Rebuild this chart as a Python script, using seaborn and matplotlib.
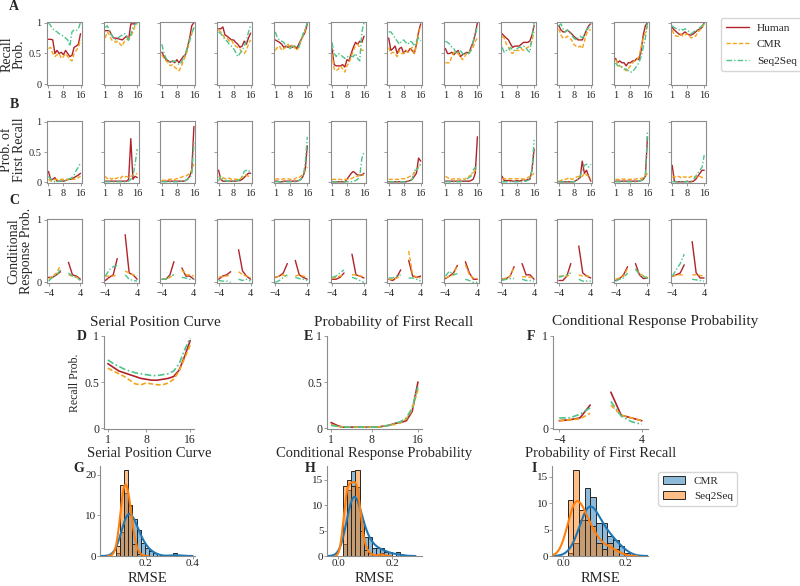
import numpy as np
import matplotlib
matplotlib.use("Agg")
import matplotlib.pyplot as plt
from matplotlib.lines import Line2D
import seaborn as sns

sns.set_theme(style="ticks")
plt.rcParams["font.family"] = ["Liberation Serif", "DejaVu Serif"]

# ---------------- data ----------------
positions = list(range(1, 17))
lags_left = [-4, -3, -2, -1]
lags_right = [1, 2, 3, 4]

spc_human = [
    [0.73, 0.73, 0.72, 0.50, 0.55, 0.50, 0.52, 0.48, 0.55, 0.50, 0.45, 0.47, 0.60, 0.62, 0.65, 0.82],
    [0.87, 0.87, 0.87, 0.80, 0.75, 0.75, 0.74, 0.73, 0.72, 0.75, 0.78, 0.73, 0.98, 0.98, 0.98, 1.00],
    [0.52, 0.45, 0.40, 0.38, 0.36, 0.38, 0.35, 0.40, 0.35, 0.40, 0.45, 0.48, 0.60, 0.75, 0.95, 1.00],
    [0.90, 0.90, 0.93, 0.80, 0.78, 0.75, 0.72, 0.72, 0.68, 0.65, 0.60, 0.62, 0.70, 0.65, 0.75, 0.83],
    [0.72, 0.70, 0.68, 0.65, 0.60, 0.62, 0.60, 0.62, 0.60, 0.62, 0.58, 0.65, 0.72, 0.78, 0.85, 0.98],
    [0.58, 0.32, 0.30, 0.30, 0.30, 0.32, 0.28, 0.40, 0.38, 0.50, 0.60, 0.68, 0.65, 0.70, 0.68, 0.78],
    [0.75, 0.55, 0.58, 0.62, 0.50, 0.58, 0.60, 0.50, 0.55, 0.52, 0.58, 0.55, 0.50, 0.65, 0.85, 0.98],
    [0.58, 0.50, 0.50, 0.52, 0.48, 0.52, 0.55, 0.45, 0.48, 0.50, 0.52, 0.50, 0.60, 0.68, 0.82, 1.00],
    [0.82, 0.78, 0.75, 0.72, 0.65, 0.60, 0.62, 0.62, 0.62, 0.65, 0.68, 0.68, 0.68, 0.70, 0.80, 0.95],
    [0.95, 0.88, 0.85, 0.85, 0.88, 0.85, 0.82, 0.78, 0.75, 0.72, 0.72, 0.72, 0.80, 0.88, 0.95, 0.98],
    [0.42, 0.35, 0.38, 0.35, 0.35, 0.30, 0.35, 0.35, 0.38, 0.38, 0.42, 0.40, 0.55, 0.80, 0.95, 1.00],
    [0.92, 0.88, 0.85, 0.82, 0.80, 0.82, 0.85, 0.82, 0.80, 0.80, 0.82, 0.85, 0.88, 0.90, 0.92, 1.00],
]
spc_cmr = [
    [0.58, 0.60, 0.50, 0.45, 0.48, 0.50, 0.42, 0.45, 0.50, 0.45, 0.40, 0.38, 0.50, 0.55, 0.60, 0.72],
    [0.75, 0.85, 0.80, 0.72, 0.70, 0.68, 0.70, 0.65, 0.62, 0.70, 0.72, 0.75, 0.78, 0.85, 0.95, 0.97],
    [0.48, 0.42, 0.38, 0.35, 0.30, 0.32, 0.28, 0.25, 0.22, 0.28, 0.38, 0.45, 0.55, 0.72, 0.82, 0.92],
    [0.88, 0.85, 0.80, 0.75, 0.75, 0.70, 0.72, 0.65, 0.62, 0.60, 0.57, 0.52, 0.50, 0.55, 0.65, 0.72],
    [0.55, 0.60, 0.62, 0.55, 0.58, 0.60, 0.65, 0.58, 0.65, 0.60, 0.55, 0.60, 0.70, 0.78, 0.88, 0.92],
    [0.50, 0.25, 0.22, 0.25, 0.30, 0.25, 0.20, 0.30, 0.35, 0.45, 0.55, 0.62, 0.65, 0.60, 0.55, 0.55],
    [0.60, 0.50, 0.52, 0.50, 0.45, 0.55, 0.50, 0.50, 0.55, 0.52, 0.55, 0.60, 0.50, 0.62, 0.82, 0.95],
    [0.35, 0.35, 0.35, 0.45, 0.52, 0.50, 0.50, 0.45, 0.40, 0.45, 0.50, 0.52, 0.55, 0.60, 0.70, 0.75],
    [0.78, 0.75, 0.65, 0.60, 0.52, 0.50, 0.55, 0.55, 0.55, 0.58, 0.55, 0.58, 0.60, 0.62, 0.70, 0.85],
    [0.90, 0.80, 0.75, 0.75, 0.78, 0.75, 0.72, 0.65, 0.62, 0.60, 0.62, 0.58, 0.70, 0.82, 0.88, 0.88],
    [0.40, 0.35, 0.30, 0.28, 0.25, 0.22, 0.25, 0.30, 0.35, 0.38, 0.40, 0.45, 0.60, 0.75, 0.85, 0.95],
    [0.88, 0.80, 0.78, 0.78, 0.82, 0.78, 0.80, 0.82, 0.78, 0.75, 0.78, 0.78, 0.85, 0.88, 0.92, 0.98],
]
spc_seq = [
    [1.00, 0.95, 0.90, 0.87, 0.85, 0.82, 0.80, 0.78, 0.75, 0.72, 0.62, 0.85, 0.88, 0.87, 0.90, 1.00],
    [0.92, 0.95, 0.87, 0.80, 0.75, 0.72, 0.75, 0.78, 0.80, 0.82, 0.80, 0.70, 0.80, 0.92, 0.97, 1.00],
    [0.65, 0.50, 0.42, 0.38, 0.35, 0.37, 0.38, 0.35, 0.32, 0.35, 0.42, 0.50, 0.60, 0.70, 0.82, 0.92],
    [0.85, 0.82, 0.78, 0.72, 0.70, 0.65, 0.62, 0.58, 0.52, 0.45, 0.50, 0.55, 0.62, 0.70, 0.85, 0.95],
    [0.85, 0.75, 0.72, 0.70, 0.68, 0.62, 0.60, 0.58, 0.62, 0.60, 0.62, 0.60, 0.70, 0.82, 0.90, 1.00],
    [0.68, 0.50, 0.45, 0.50, 0.48, 0.45, 0.42, 0.45, 0.45, 0.45, 0.45, 0.50, 0.42, 0.38, 0.85, 1.00],
    [0.85, 0.85, 0.80, 0.75, 0.70, 0.65, 0.70, 0.72, 0.68, 0.65, 0.70, 0.68, 0.62, 0.70, 0.75, 0.70],
    [0.70, 0.68, 0.65, 0.60, 0.58, 0.50, 0.52, 0.55, 0.50, 0.48, 0.52, 0.50, 0.55, 0.70, 0.80, 0.95],
    [0.60, 0.52, 0.55, 0.55, 0.60, 0.55, 0.55, 0.58, 0.60, 0.60, 0.62, 0.60, 0.55, 0.52, 0.75, 1.00],
    [0.95, 0.98, 0.90, 0.85, 0.88, 0.85, 0.80, 0.75, 0.72, 0.75, 0.78, 0.75, 0.80, 0.88, 0.92, 1.00],
    [0.35, 0.30, 0.30, 0.28, 0.25, 0.25, 0.22, 0.20, 0.20, 0.25, 0.30, 0.35, 0.45, 0.60, 0.75, 1.00],
    [0.95, 0.92, 0.90, 0.88, 0.90, 0.88, 0.90, 0.88, 0.85, 0.82, 0.85, 0.88, 0.88, 0.92, 0.95, 1.00],
]

pfr_human = [
    [0.18, 0.05, 0.05, 0.08, 0.02, 0.02, 0.02, 0.02, 0.03, 0.05, 0.05, 0.05, 0.08, 0.10, 0.12, 0.15],
    [0.02, 0.02, 0.02, 0.02, 0.02, 0.02, 0.02, 0.02, 0.02, 0.02, 0.02, 0.05, 0.72, 0.05, 0.10, 0.08],
    [0.02, 0.02, 0.02, 0.02, 0.02, 0.02, 0.02, 0.02, 0.02, 0.02, 0.02, 0.03, 0.05, 0.10, 0.20, 0.92],
    [0.20, 0.05, 0.02, 0.02, 0.02, 0.02, 0.02, 0.02, 0.02, 0.03, 0.03, 0.05, 0.08, 0.12, 0.15, 0.15],
    [0.02, 0.02, 0.01, 0.01, 0.02, 0.02, 0.02, 0.02, 0.02, 0.02, 0.02, 0.03, 0.05, 0.10, 0.20, 0.60],
    [0.01, 0.01, 0.01, 0.01, 0.01, 0.01, 0.01, 0.05, 0.10, 0.15, 0.18, 0.15, 0.12, 0.12, 0.12, 0.15],
    [0.01, 0.01, 0.01, 0.01, 0.01, 0.01, 0.01, 0.01, 0.01, 0.02, 0.03, 0.05, 0.10, 0.15, 0.40, 0.35],
    [0.02, 0.02, 0.02, 0.02, 0.02, 0.02, 0.02, 0.02, 0.02, 0.02, 0.02, 0.02, 0.03, 0.05, 0.15, 0.75],
    [0.10, 0.03, 0.03, 0.03, 0.03, 0.02, 0.02, 0.03, 0.02, 0.03, 0.05, 0.03, 0.05, 0.05, 0.20, 0.55],
    [0.01, 0.01, 0.01, 0.01, 0.01, 0.01, 0.01, 0.01, 0.03, 0.05, 0.08, 0.35, 0.15, 0.20, 0.10, 0.02],
    [0.02, 0.02, 0.02, 0.02, 0.02, 0.02, 0.02, 0.02, 0.02, 0.02, 0.02, 0.02, 0.03, 0.05, 0.10, 0.75],
    [0.28, 0.02, 0.01, 0.01, 0.01, 0.01, 0.01, 0.02, 0.01, 0.01, 0.02, 0.05, 0.10, 0.15, 0.20, 0.20],
]
pfr_cmr = [
    [0.05, 0.02, 0.03, 0.05, 0.05, 0.04, 0.05, 0.05, 0.06, 0.04, 0.06, 0.05, 0.05, 0.06, 0.08, 0.10],
    [0.10, 0.06, 0.08, 0.05, 0.08, 0.06, 0.08, 0.06, 0.10, 0.08, 0.10, 0.08, 0.10, 0.12, 0.12, 0.15],
    [0.04, 0.03, 0.04, 0.05, 0.05, 0.06, 0.05, 0.06, 0.08, 0.08, 0.10, 0.10, 0.12, 0.15, 0.20, 0.30],
    [0.10, 0.05, 0.08, 0.06, 0.05, 0.07, 0.05, 0.06, 0.05, 0.05, 0.06, 0.08, 0.10, 0.12, 0.10, 0.12],
    [0.05, 0.06, 0.05, 0.05, 0.06, 0.05, 0.06, 0.05, 0.06, 0.05, 0.08, 0.08, 0.10, 0.15, 0.20, 0.25],
    [0.05, 0.05, 0.05, 0.05, 0.05, 0.04, 0.05, 0.05, 0.05, 0.06, 0.08, 0.10, 0.10, 0.12, 0.12, 0.12],
    [0.05, 0.05, 0.05, 0.05, 0.05, 0.05, 0.06, 0.06, 0.06, 0.08, 0.10, 0.12, 0.15, 0.20, 0.25, 0.30],
    [0.10, 0.08, 0.06, 0.05, 0.06, 0.05, 0.06, 0.05, 0.06, 0.05, 0.08, 0.10, 0.12, 0.15, 0.20, 0.20],
    [0.06, 0.06, 0.06, 0.06, 0.06, 0.06, 0.06, 0.06, 0.06, 0.06, 0.05, 0.06, 0.08, 0.10, 0.12, 0.15],
    [0.02, 0.03, 0.05, 0.05, 0.06, 0.08, 0.05, 0.06, 0.08, 0.10, 0.08, 0.10, 0.15, 0.12, 0.10, 0.05],
    [0.05, 0.05, 0.05, 0.06, 0.05, 0.06, 0.05, 0.05, 0.06, 0.05, 0.06, 0.06, 0.06, 0.08, 0.10, 0.15],
    [0.08, 0.10, 0.08, 0.10, 0.08, 0.10, 0.08, 0.10, 0.08, 0.10, 0.08, 0.10, 0.08, 0.10, 0.08, 0.08],
]
pfr_seq = [
    [0.10, 0.05, 0.02, 0.01, 0.01, 0.02, 0.02, 0.03, 0.03, 0.05, 0.06, 0.08, 0.12, 0.20, 0.25, 0.32],
    [0.01, 0.01, 0.01, 0.01, 0.01, 0.01, 0.01, 0.01, 0.01, 0.01, 0.01, 0.02, 0.05, 0.10, 0.30, 0.55],
    [0.01, 0.01, 0.01, 0.01, 0.01, 0.01, 0.01, 0.01, 0.01, 0.02, 0.02, 0.03, 0.05, 0.08, 0.12, 0.65],
    [0.02, 0.10, 0.05, 0.03, 0.02, 0.02, 0.02, 0.02, 0.02, 0.03, 0.05, 0.10, 0.18, 0.20, 0.20, 0.15],
    [0.01, 0.01, 0.01, 0.01, 0.01, 0.01, 0.01, 0.01, 0.01, 0.01, 0.01, 0.03, 0.05, 0.10, 0.30, 0.75],
    [0.01, 0.01, 0.01, 0.01, 0.01, 0.01, 0.01, 0.01, 0.01, 0.01, 0.02, 0.03, 0.05, 0.10, 0.40, 0.50],
    [0.01, 0.01, 0.01, 0.01, 0.01, 0.01, 0.01, 0.01, 0.01, 0.02, 0.03, 0.05, 0.20, 0.20, 0.25, 0.30],
    [0.01, 0.01, 0.01, 0.01, 0.01, 0.01, 0.01, 0.01, 0.02, 0.03, 0.05, 0.08, 0.10, 0.20, 0.25, 0.20],
    [0.01, 0.01, 0.01, 0.01, 0.01, 0.01, 0.01, 0.01, 0.01, 0.01, 0.01, 0.02, 0.03, 0.05, 0.20, 0.70],
    [0.01, 0.01, 0.01, 0.01, 0.01, 0.01, 0.01, 0.01, 0.02, 0.05, 0.10, 0.20, 0.28, 0.30, 0.25, 0.30],
    [0.01, 0.01, 0.01, 0.01, 0.01, 0.01, 0.01, 0.01, 0.01, 0.01, 0.01, 0.02, 0.03, 0.05, 0.10, 0.85],
    [0.01, 0.01, 0.01, 0.01, 0.01, 0.01, 0.01, 0.01, 0.01, 0.02, 0.05, 0.10, 0.15, 0.20, 0.25, 0.45],
]

# conditional response probability: lags -4..-1 then 1..4
crp_human = [
    [0.08, 0.08, 0.12, 0.17, 0.32, 0.12, 0.10, 0.05],
    [0.03, 0.08, 0.12, 0.38, 0.76, 0.15, 0.12, 0.05],
    [0.05, 0.05, 0.12, 0.33, 0.23, 0.10, 0.10, 0.05],
    [0.05, 0.10, 0.12, 0.17, 0.52, 0.18, 0.10, 0.05],
    [0.08, 0.10, 0.15, 0.30, 0.35, 0.12, 0.08, 0.05],
    [0.05, 0.05, 0.08, 0.15, 0.45, 0.12, 0.10, 0.07],
    [0.05, 0.03, 0.08, 0.20, 0.35, 0.10, 0.08, 0.10],
    [0.06, 0.10, 0.15, 0.27, 0.33, 0.15, 0.05, 0.05],
    [0.05, 0.06, 0.10, 0.25, 0.30, 0.12, 0.12, 0.05],
    [0.03, 0.03, 0.10, 0.30, 0.58, 0.15, 0.10, 0.07],
    [0.03, 0.06, 0.12, 0.25, 0.30, 0.12, 0.06, 0.07],
    [0.10, 0.12, 0.15, 0.28, 0.65, 0.15, 0.07, 0.07],
]
crp_cmr = [
    [0.05, 0.10, 0.15, 0.27, 0.12, 0.10, 0.08, 0.05],
    [0.10, 0.10, 0.10, 0.12, 0.18, 0.15, 0.12, 0.10],
    [0.05, 0.05, 0.08, 0.12, 0.20, 0.12, 0.12, 0.10],
    [0.08, 0.10, 0.10, 0.12, 0.17, 0.12, 0.10, 0.08],
    [0.08, 0.10, 0.12, 0.08, 0.10, 0.12, 0.10, 0.08],
    [0.06, 0.08, 0.10, 0.12, 0.12, 0.12, 0.10, 0.10],
    [0.05, 0.05, 0.07, 0.10, 0.50, 0.12, 0.08, 0.07],
    [0.07, 0.10, 0.12, 0.27, 0.28, 0.12, 0.07, 0.06],
    [0.05, 0.07, 0.10, 0.25, 0.09, 0.09, 0.08, 0.07],
    [0.10, 0.10, 0.10, 0.12, 0.12, 0.10, 0.10, 0.10],
    [0.05, 0.07, 0.10, 0.22, 0.20, 0.15, 0.10, 0.08],
    [0.10, 0.11, 0.12, 0.12, 0.12, 0.12, 0.11, 0.10],
]
crp_seq = [
    [0.02, 0.08, 0.12, 0.20, 0.15, 0.10, 0.08, 0.03],
    [0.10, 0.20, 0.25, 0.27, 0.12, 0.05, 0.03, 0.02],
    [0.05, 0.05, 0.10, 0.12, 0.08, 0.07, 0.05, 0.05],
    [0.03, 0.02, 0.02, 0.00, 0.05, 0.03, 0.05, 0.02],
    [0.00, 0.03, 0.08, 0.12, 0.08, 0.06, 0.05, 0.03],
    [0.08, 0.10, 0.15, 0.20, 0.08, 0.06, 0.03, 0.00],
    [0.07, 0.07, 0.10, 0.12, 0.07, 0.07, 0.05, 0.02],
    [0.10, 0.18, 0.12, 0.14, 0.05, 0.03, 0.00, 0.00],
    [0.03, 0.05, 0.06, 0.06, 0.05, 0.03, 0.03, 0.02],
    [0.08, 0.10, 0.12, 0.15, 0.05, 0.02, 0.02, 0.02],
    [0.02, 0.05, 0.07, 0.15, 0.22, 0.12, 0.10, 0.06],
    [0.10, 0.20, 0.30, 0.45, 0.05, 0.04, 0.03, 0.02],
]

avg_spc_human = [0.70, 0.66, 0.62, 0.60, 0.58, 0.56, 0.54, 0.53, 0.52, 0.52, 0.53, 0.54, 0.56, 0.63, 0.78, 0.95]
avg_spc_cmr = [0.65, 0.62, 0.59, 0.56, 0.52, 0.48, 0.47, 0.49, 0.48, 0.47, 0.47, 0.49, 0.53, 0.62, 0.76, 0.90]
avg_spc_seq = [0.74, 0.70, 0.67, 0.64, 0.62, 0.60, 0.59, 0.58, 0.57, 0.57, 0.58, 0.59, 0.62, 0.70, 0.85, 0.98]

avg_pfr_human = [0.06, 0.03, 0.01, 0.01, 0.01, 0.01, 0.01, 0.01, 0.01, 0.02, 0.03, 0.05, 0.06, 0.08, 0.18, 0.50]
avg_pfr_cmr = [0.04, 0.02, 0.01, 0.01, 0.01, 0.01, 0.01, 0.01, 0.01, 0.02, 0.03, 0.04, 0.06, 0.10, 0.20, 0.42]
avg_pfr_seq = [0.03, 0.02, 0.01, 0.01, 0.01, 0.01, 0.01, 0.01, 0.01, 0.02, 0.03, 0.05, 0.07, 0.11, 0.22, 0.45]

avg_crp_human = [0.08, 0.09, 0.11, 0.25, 0.39, 0.14, 0.11, 0.08]
avg_crp_cmr = [0.08, 0.09, 0.10, 0.16, 0.25, 0.14, 0.11, 0.08]
avg_crp_seq = [0.11, 0.11, 0.15, 0.22, 0.29, 0.13, 0.07, 0.04]

# RMSE histograms: bin edges and number of subjects per bin, per model
g_edges = [0.0725, 0.09, 0.1075, 0.125, 0.1425, 0.16, 0.1775, 0.195, 0.2125, 0.23, 0.2475,
           0.265, 0.2825, 0.30, 0.3175, 0.335, 0.3525]
g_cmr = [1, 9, 24, 19, 14, 10, 5, 3, 2, 1, 0, 0, 0, 0, 1, 0]
g_seq = [4, 29, 35, 21, 5, 1, 0, 0, 0, 0, 0, 0, 0, 0, 0, 0]

h_edges = [0.0195, 0.0345, 0.0495, 0.0645, 0.0795, 0.0945, 0.1095, 0.1245, 0.1395, 0.1545,
           0.1695, 0.1845, 0.1995, 0.2145, 0.2295, 0.2445]
h_cmr = [3, 17, 22, 18, 9, 5, 5, 2, 2, 2, 1, 1, 0, 1, 0]
h_seq = [22, 24, 22, 27, 8, 2, 1, 0, 0, 1, 0, 0, 0, 0, 0]

i_edges = [0.015, 0.033, 0.051, 0.069, 0.087, 0.105, 0.123, 0.141, 0.159, 0.177, 0.195, 0.213]
i_cmr = [1, 4, 11, 21, 18, 10, 10, 6, 5, 3, 1]
i_seq = [17, 26, 14, 11, 9, 4, 2, 4, 2, 0, 0]

# ---------------- style ----------------
C_HUMAN = "#b2222a"
C_CMR = "#f5a31a"
C_SEQ = "#4cc48a"
SPINE = "0.55"
LS_CMR = (0, (3, 1.5))
LS_SEQ = (0, (4, 1.5, 1, 1.5))

W, H = 800, 586
fig = plt.figure(figsize=(8, 5.86), dpi=100)


def ax_px(x0, y0, x1, y1):
    return fig.add_axes([x0 / W, 1 - y1 / H, (x1 - x0) / W, (y1 - y0) / H])


def style_small(ax, first, yt, ytl):
    for s in ax.spines.values():
        s.set_color(SPINE)
        s.set_linewidth(0.8)
    ax.tick_params(length=2.5, width=0.6, color=SPINE, labelsize=7.5, pad=1.5)
    ax.set_yticks(yt)
    ax.set_yticklabels(ytl if first else [])
    ax.set_xlabel("")
    ax.set_ylabel("")


series = [("human", C_HUMAN, "-"), ("cmr", C_CMR, LS_CMR), ("seq", C_SEQ, LS_SEQ)]
spc = {"human": spc_human, "cmr": spc_cmr, "seq": spc_seq}
pfr = {"human": pfr_human, "cmr": pfr_cmr, "seq": pfr_seq}
crp = {"human": crp_human, "cmr": crp_cmr, "seq": crp_seq}

for i in range(12):
    x0 = 47 + 56.7 * i
    axA = ax_px(x0, 22, x0 + 35, 85)
    axB = ax_px(x0, 121, x0 + 35, 183)
    axC = ax_px(x0, 219, x0 + 35, 283)
    for key, col, ls in series:
        sns.lineplot(x=positions, y=spc[key][i], ax=axA, color=col, linestyle=ls, lw=1.0, legend=False)
        sns.lineplot(x=positions, y=pfr[key][i], ax=axB, color=col, linestyle=ls, lw=1.0, legend=False)
        sns.lineplot(x=lags_left, y=crp[key][i][:4], ax=axC, color=col, linestyle=ls, lw=1.0, legend=False)
        sns.lineplot(x=lags_right, y=crp[key][i][4:], ax=axC, color=col, linestyle=ls, lw=1.0, legend=False)
    for ax in (axA, axB):
        ax.set_xticks([1, 8, 16])
        ax.set_xlim(0.3, 16.7)
        ax.set_ylim(-0.01, 1.01)
    axC.set_xticks([-4, 4])
    axC.set_xlim(-4.4, 4.4)
    axC.set_ylim(-0.01, 1.01)
    style_small(axA, i == 0, [0, 0.5, 1], ["0", "0.5", "1"])
    style_small(axB, i == 0, [0, 0.5, 1], ["0", "0.5", "1"])
    style_small(axC, i == 0, [0, 1], ["0", "1"])

# row labels
fig.text(13 / W, 1 - 54 / H, "Recall\nProb.", rotation=90, fontsize=10, ha="center", va="center",
         linespacing=0.95)
fig.text(13 / W, 1 - 150 / H, "Prob. of\nFirst Recall", rotation=90, fontsize=10, ha="center",
         va="center", linespacing=0.95)
fig.text(20 / W, 1 - 251 / H, "Conditional\nResponse Prob.", rotation=90, fontsize=10, ha="center",
         va="center", linespacing=0.95)

fig.legend(handles=[Line2D([], [], color=C_HUMAN, ls="-", lw=1.0),
                    Line2D([], [], color=C_CMR, ls=LS_CMR, lw=1.0),
                    Line2D([], [], color=C_SEQ, ls=LS_SEQ, lw=1.0)],
           labels=["Human", "CMR", "Seq2Seq"], loc="upper left",
           bbox_to_anchor=(721 / W, 1 - 18 / H), fontsize=8.2, frameon=True,
           handlelength=2.0, labelspacing=0.55, borderpad=0.45, handletextpad=0.7,
           borderaxespad=0)

for lab, (x, y) in {"A": (14, 7), "B": (14, 104), "C": (14, 200)}.items():
    fig.text(x / W, 1 - y / H, lab, fontweight="bold", fontsize=10, ha="center", va="center")


# ---------------- D / E / F ----------------
def style_big(ax, size=8.5, length=2.5, pad=1):
    sns.despine(ax=ax)
    for s in ("left", "bottom"):
        ax.spines[s].set_color(SPINE)
        ax.spines[s].set_linewidth(0.8)
    ax.tick_params(length=length, width=0.6, color=SPINE, labelsize=size, pad=pad)


axD = ax_px(104, 336, 194, 429)
axE = ax_px(327, 336, 422, 429)
axF = ax_px(553, 336, 648, 429)
for (key, col, ls), yd, ye, yf in zip(series,
                                      [avg_spc_human, avg_spc_cmr, avg_spc_seq],
                                      [avg_pfr_human, avg_pfr_cmr, avg_pfr_seq],
                                      [avg_crp_human, avg_crp_cmr, avg_crp_seq]):
    sns.lineplot(x=positions, y=yd, ax=axD, color=col, linestyle=ls, lw=1.2, legend=False)
    sns.lineplot(x=positions, y=ye, ax=axE, color=col, linestyle=ls, lw=1.2, legend=False)
    sns.lineplot(x=lags_left, y=yf[:4], ax=axF, color=col, linestyle=ls, lw=1.2, legend=False)
    sns.lineplot(x=lags_right, y=yf[4:], ax=axF, color=col, linestyle=ls, lw=1.2, legend=False)

for ax in (axD, axE):
    ax.set_xticks([1, 8, 16])
    ax.set_xlim(0.3, 16.7)
    ax.set_ylim(-0.01, 1.0)
    ax.set_yticks([0, 0.5, 1])
    ax.set_yticklabels(["0", "0.5", "1"])
axF.set_xticks([-4, 4])
axF.set_xlim(-4.6, 4.6)
axF.set_ylim(-0.01, 1.0)
axF.set_yticks([0, 1])
axF.set_yticklabels(["0", "1"])
for ax in (axD, axE, axF):
    style_big(ax, size=8.5, length=2.5, pad=1)
    ax.set_ylabel("")
axD.set_ylabel("Recall Prob.", fontsize=8.5, labelpad=2)
for ax, txt in ((axD, "Serial Position Curve"), (axE, "Conditional Response Probability"),
                (axF, "Probability of First Recall")):
    ax.set_xlabel(txt, fontsize=10.5)
    ax.xaxis.set_label_coords(0.5, (429 - 457) / 93)
    ax.xaxis.label.set_va("baseline")

fig.text(155 / W, 1 - 322 / H, "Serial Position Curve", fontsize=11, ha="center", va="center")
fig.text(394 / W, 1 - 322 / H, "Probability of First Recall", fontsize=11, ha="center", va="center")
fig.text(655 / W, 1 - 322 / H, "Conditional Response Probability", fontsize=11, ha="center", va="center")

for lab, (x, y) in {"D": (82, 337), "E": (308, 337), "F": (531, 337),
                    "G": (79, 468), "H": (310, 468), "I": (534, 468)}.items():
    fig.text(x / W, 1 - y / H, lab, fontweight="bold", fontsize=10, ha="center", va="center")

# ---------------- G / H / I ----------------
axG = ax_px(100, 466, 195, 556)
axH = ax_px(327, 466, 422, 556)
axI = ax_px(552, 466, 648, 556)


def hist_pair(ax, edges, cmr_n, seq_n, bw_c, bw_s):
    e = np.array(edges)
    centers = (e[:-1] + e[1:]) / 2
    cmr_vals = np.repeat(centers, cmr_n)
    seq_vals = np.repeat(centers, seq_n)
    sns.histplot(x=cmr_vals, bins=edges, stat="density", kde=True,
                 color="tab:blue", alpha=0.5, edgecolor="0.15", linewidth=0.7, ax=ax,
                 label="CMR", line_kws={"lw": 1.5}, kde_kws={"cut": 3, "bw_adjust": bw_c})
    sns.histplot(x=seq_vals, bins=edges, stat="density", kde=True,
                 color="tab:orange", alpha=0.5, edgecolor="0.15", linewidth=0.7, ax=ax,
                 label="Seq2Seq", line_kws={"lw": 1.5}, kde_kws={"cut": 3, "bw_adjust": bw_s})
    style_big(ax, size=8, length=2, pad=0.5)
    ax.set_ylabel("")
    ax.set_xlabel("RMSE", fontsize=10.5)
    ax.xaxis.set_label_coords(0.5, (556 - 582.5) / 90)
    ax.xaxis.label.set_va("baseline")


hist_pair(axG, g_edges, g_cmr, g_seq, 1.6, 2.0)
hist_pair(axH, h_edges, h_cmr, h_seq, 1.4, 1.3)
hist_pair(axI, i_edges, i_cmr, i_seq, 1.5, 1.5)
axG.set_xticks([0.2, 0.4])
axG.set_xlim(0.004, 0.41)
axG.set_yticks([0, 10, 20])
axH.set_xticks([0.0, 0.2])
axH.set_xlim(-0.041, 0.311)
axH.set_yticks([0, 5, 10, 15])
axI.set_xticks([0.0, 0.2])
axI.set_xlim(-0.035, 0.27)
axI.set_yticks([0, 5, 10, 15])
axI.legend(loc="upper left", bbox_to_anchor=(1.05, 1.0), fontsize=8, frameon=True,
           handlelength=2.0, borderpad=0.4, labelspacing=0.5)

fig.savefig("out.png", dpi=100)
